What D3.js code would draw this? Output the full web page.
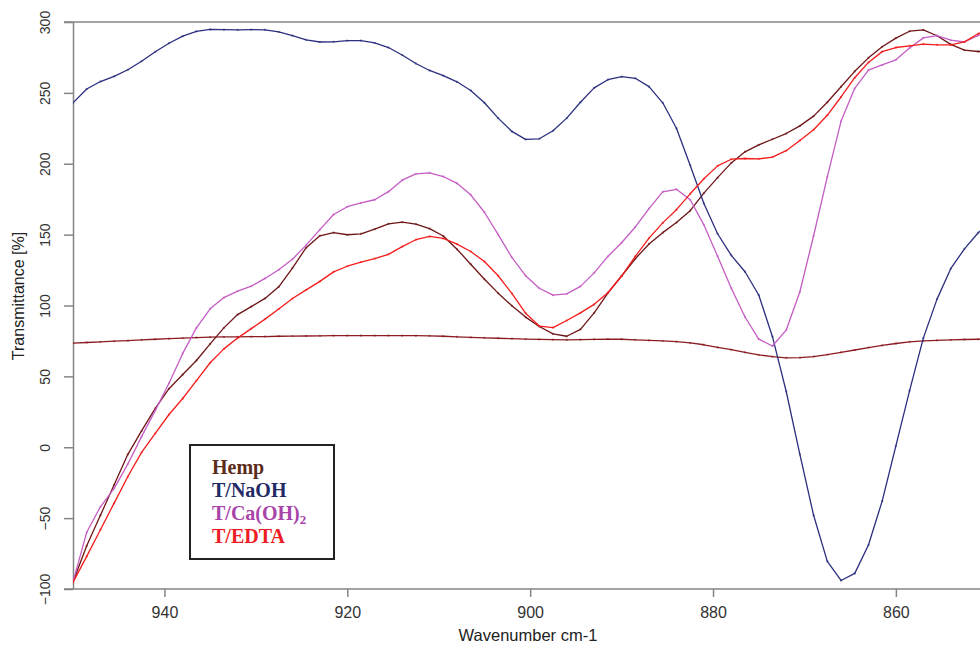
<!DOCTYPE html>
<html>
<head>
<meta charset="utf-8">
<script src="https://cdn.jsdelivr.net/npm/d3@7"></script>
<style>
  body { margin: 0; background: #fff; }
  svg { display: block; }
</style>
</head>
<body>
<div id="chart"></div>
<script>
// wavenumber grid (cm-1)
const wavenumbers = [950, 948.5, 947, 945.5, 944, 942.5, 941, 939.5, 938, 936.5,
  935, 933.5, 932, 930.5, 929, 927.5, 926, 924.5, 923, 921.5,
  920, 918.5, 917, 915.5, 914, 912.5, 911, 909.5, 908, 906.5,
  905, 903.5, 902, 900.5, 899, 897.5, 896, 894.5, 893, 891.5,
  890, 888.5, 887, 885.5, 884, 882.5, 881, 879.5, 878, 876.5,
  875, 873.5, 872, 870.5, 869, 867.5, 866, 864.5, 863, 861.5,
  860, 858.5, 857, 855.5, 854, 852.5, 851, 849.5];

const hemp = [-95, -69.5, -48, -26.5, -5, 11.5, 27.4, 41.3, 51.3, 61.2,
  72.9, 84.2, 93.6, 99.2, 105, 113.2, 126.4, 140.8, 149.2, 151.4,
  149.9, 150.6, 153.9, 157.6, 158.8, 157.4, 154.2, 149, 139.7, 129.1,
  118.5, 108.7, 99.8, 91.8, 85.2, 80, 78.3, 83.2, 94.8, 108.8,
  120.8, 133, 143.4, 151.4, 158.5, 166.9, 179.3, 190.2, 200.6, 208.4,
  213.3, 217.3, 221.3, 226.7, 233.6, 243.4, 254.3, 265.2, 274.7, 282.5,
  288.6, 293.5, 294.4, 290.3, 284.2, 280.2, 279.2, 279];

const naoh = [243, 252.7, 258, 261.7, 266.3, 272.3, 279, 285, 290, 293.4,
  294.8, 294.6, 294.4, 294.6, 294.5, 293, 290.4, 287.4, 285.9, 286,
  286.8, 286.9, 285.2, 282, 276.7, 270.7, 265.8, 262.2, 257.8, 251.7,
  243, 232.2, 222.8, 217.2, 217.6, 223.3, 232.2, 243.4, 253.5, 259.3,
  261.4, 260.3, 254.4, 243, 225, 199, 172, 150.6, 135.4, 123.8,
  107.4, 78, 39.5, -5, -48, -80.5, -94, -89, -69, -38,
  1, 40, 77, 104.5, 126, 140, 151.3, 160];

const caoh2 = [-95, -60, -42, -29, -11.8, 7.5, 26, 45.2, 66.2, 84.2,
  97.7, 105.6, 110.1, 113.6, 119.1, 125.2, 132.6, 142.6, 153.5, 164.2,
  169.7, 172.4, 174.6, 180.3, 188.4, 192.8, 193.6, 191, 186.2, 178.1,
  165.8, 150, 133.9, 121, 112.2, 107.3, 108.2, 113.5, 123, 134.6,
  144.3, 155.4, 168.4, 180.2, 182, 174.6, 156.9, 134.8, 112.2, 91.9,
  76.3, 71.4, 82.6, 109.7, 149.2, 190.7, 229.9, 253.2, 266, 269.7,
  273.3, 281.7, 288.8, 290.4, 287.2, 285.9, 290.5, 295];

const edta = [-95.4, -77, -58.2, -39.4, -20.6, -3.6, 9.8, 23.1, 34.4, 47,
  59.6, 69.4, 77, 83.7, 90.4, 97.6, 104.9, 111, 117, 123.7,
  127.7, 130.6, 133.1, 136.1, 141.5, 146.4, 148.7, 147.3, 143.3, 138.1,
  131, 121, 108.5, 94.6, 85.5, 84.4, 89.4, 94.8, 100.8, 109,
  120.8, 134.7, 147.5, 158.3, 167.6, 178.8, 189.4, 198.5, 203.2, 203.7,
  203.4, 204.7, 209.2, 216.4, 224, 234.2, 247.1, 260.7, 271.5, 279.1,
  282, 283.2, 284.4, 283.9, 283.9, 286, 291.7, 297];

// flat trace drawn without a legend entry
const baseline = [73.5, 73.9, 74.3, 74.8, 75.2, 75.7, 76.2, 76.6, 77, 77.4,
  77.7, 77.8, 77.9, 78, 78.1, 78.3, 78.4, 78.5, 78.6, 78.7,
  78.8, 78.8, 78.8, 78.8, 78.7, 78.7, 78.6, 78.3, 77.9, 77.5,
  77.2, 76.9, 76.6, 76.3, 76.1, 75.9, 75.8, 75.9, 76.1, 76.3,
  76.2, 75.8, 75.4, 75, 74.5, 73.6, 72.3, 70.5, 68.8, 67,
  65.2, 63.9, 63.1, 63.2, 64, 65.3, 67, 68.6, 70.3, 71.8,
  73.2, 74.4, 75, 75.4, 75.7, 76, 76.2, 76.3];

const yTicks = [-100, -50, 0, 50, 100, 150, 200, 250, 300];
const xTicks = [940, 920, 900, 880, 860];

const series = [
  { name: "baseline", values: baseline, color: "#8c1c22" },
  { name: "Hemp", values: hemp, color: "#6e1518" },
  { name: "T/NaOH", values: naoh, color: "#2b2f7e" },
  { name: "T/Ca(OH)2", values: caoh2, color: "#c45cc4" },
  { name: "T/EDTA", values: edta, color: "#f41c1c" }
];

const legendItems = [
  { label: "Hemp", color: "#5c2c1a" },
  { label: "T/NaOH", color: "#1f2a66" },
  { label: "T/Ca(OH)", sub: "2", color: "#a844a8" },
  { label: "T/EDTA", color: "#ee1c24" }
];

const width = 980, height = 646;
const plotLeft = 73, plotRight = 980, plotTop = 22, plotBottom = 589;

const svg = d3.select("#chart").append("svg")
  .attr("width", width)
  .attr("height", height);

const x = d3.scaleLinear().domain([950, 850.8]).range([plotLeft, plotRight]);
const y = d3.scaleLinear().domain([-100, 300]).range([plotBottom, plotTop]);

svg.append("clipPath").attr("id", "plot")
  .append("rect")
  .attr("x", plotLeft).attr("y", plotTop - 2)
  .attr("width", plotRight - plotLeft).attr("height", plotBottom - plotTop + 4);

const axisColor = "#858585";

// frame line at the top
svg.append("line")
  .attr("x1", plotLeft - 9).attr("x2", plotRight)
  .attr("y1", plotTop).attr("y2", plotTop)
  .attr("stroke", axisColor).attr("stroke-width", 1.5);

// y axis
const yAxis = svg.append("g")
  .attr("transform", "translate(" + plotLeft + ",0)")
  .call(d3.axisLeft(y).tickValues(yTicks).tickSize(9).tickSizeOuter(0).tickFormat(d3.format("d")));
yAxis.select(".domain").attr("stroke", axisColor).attr("stroke-width", 1.5);
yAxis.selectAll(".tick line").attr("stroke", axisColor).attr("stroke-width", 1.5);
yAxis.selectAll(".tick text")
  .attr("x", null).attr("dy", null)
  .attr("transform", "translate(-23,0) rotate(-90)")
  .attr("text-anchor", "middle")
  .attr("fill", "#333")
  .style("font-family", "'Liberation Sans', Arial, sans-serif")
  .style("font-size", "14px");

// x axis
const xAxis = svg.append("g")
  .attr("transform", "translate(0," + plotBottom + ")")
  .call(d3.axisBottom(x).tickValues(xTicks).tickSize(8).tickSizeOuter(0));
xAxis.select(".domain").remove();
xAxis.selectAll(".tick line").attr("stroke", axisColor).attr("stroke-width", 1.5);
xAxis.selectAll(".tick text")
  .attr("y", 29).attr("dy", null)
  .attr("fill", "#333")
  .style("font-family", "'Liberation Sans', Arial, sans-serif")
  .style("font-size", "16px");
svg.append("line")
  .attr("x1", plotLeft - 9).attr("x2", plotRight)
  .attr("y1", plotBottom).attr("y2", plotBottom)
  .attr("stroke", axisColor).attr("stroke-width", 1.5);

// axis titles
svg.append("text")
  .attr("x", 528).attr("y", 641)
  .attr("text-anchor", "middle")
  .attr("fill", "#222")
  .style("font-family", "'Liberation Sans', Arial, sans-serif")
  .style("font-size", "16.5px")
  .text("Wavenumber cm-1");

svg.append("text")
  .attr("transform", "translate(24,296) rotate(-90)")
  .attr("text-anchor", "middle")
  .attr("fill", "#222")
  .style("font-family", "'Liberation Sans', Arial, sans-serif")
  .style("font-size", "16px")
  .text("Transmittance [%]");

// traces
const line = d3.line()
  .x((d, i) => x(wavenumbers[i]))
  .y(d => y(d));

const plot = svg.append("g").attr("clip-path", "url(#plot)");

series.forEach(s => {
  plot.append("path")
    .datum(s.values)
    .attr("fill", "none")
    .attr("stroke", s.color)
    .attr("stroke-width", 1.3)
    .attr("stroke-linejoin", "round")
    .attr("d", line);

  plot.selectAll(null)
    .data(s.values)
    .enter()
    .append("rect")
    .attr("x", (d, i) => x(wavenumbers[i]) - 1)
    .attr("y", d => y(d) - 1)
    .attr("width", 2)
    .attr("height", 2)
    .attr("fill", s.color)
    .attr("opacity", 0.6);
});

// legend
const legend = svg.append("g").attr("transform", "translate(190,445)");
legend.append("rect")
  .attr("width", 144).attr("height", 114)
  .attr("fill", "#fff")
  .attr("stroke", "#222")
  .attr("stroke-width", 2);

legendItems.forEach((d, i) => {
  const t = legend.append("text")
    .attr("x", 22)
    .attr("y", 29 + i * 23)
    .attr("fill", d.color)
    .style("font-family", "'Liberation Serif', 'Times New Roman', serif")
    .style("font-weight", "bold")
    .style("font-size", "20px")
    .text(d.label);
  if (d.sub) {
    t.append("tspan")
      .attr("dy", 4)
      .style("font-size", "13px")
      .text(d.sub);
  }
});
</script>
</body>
</html>
